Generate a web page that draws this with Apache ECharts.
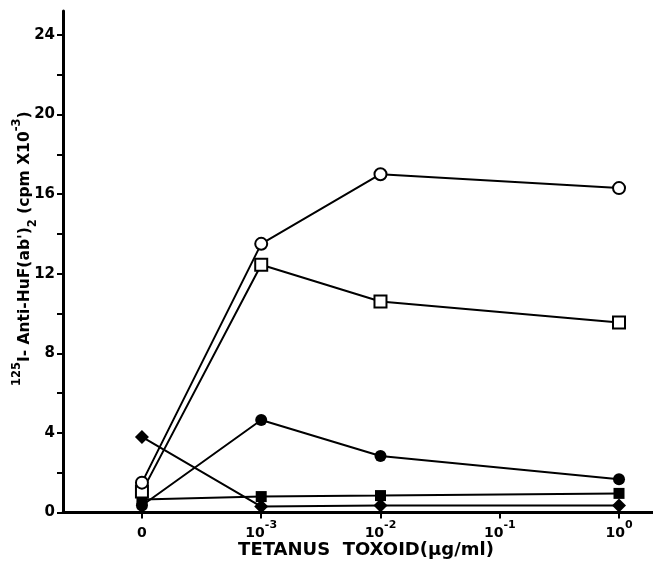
<!DOCTYPE html>
<html><head><meta charset="utf-8">
<script src="https://cdn.jsdelivr.net/npm/echarts@6/dist/echarts.min.js"></script>
<style>html,body{margin:0;padding:0;background:#fff}#c{width:653px;height:562px}</style>
</head><body><div id="c"></div>
<script>
// x tick labels (positions 0..4 on the axis)
const tickLabels = ['0', '10^-3', '10^-2', '10^-1', '10^0'];
// x positions (index into tickLabels) of measured points
const xIndex = [0, 1, 2, 4];
// series values (cpm x 10^-3)
const openCircle    = [1.5, 13.5, 17.0, 16.3];
const openSquare    = [1.05, 12.45, 10.6, 9.55];
const filledCircle  = [0.35, 4.65, 2.84, 1.67];
const filledSquare  = [0.65, 0.8, 0.85, 0.96];
const filledDiamond = [3.8, 0.3, 0.35, 0.35];
// y ticks / labels
const yTicks  = [0, 2, 4, 6, 8, 10, 12, 14, 16, 18, 20, 22, 24];
const yLabels = [0, 4, 8, 12, 16, 20, 24];

const FONT = 'DejaVu Sans';
function pts(vals) { return xIndex.map((x, i) => [x, vals[i]]); }
function fmtTick(v) {
  const s = tickLabels[Math.round(v)];
  if (s === undefined) return '';
  const p = s.split('^');
  return p.length > 1 ? '{b|' + p[0] + '}{sup|' + p[1] + '}' : '{b|' + p[0] + '}';
}
function mk(name, data, symbol, size, filled) {
  return {
    name: name, type: 'line', data: pts(data), symbol: symbol, symbolSize: size,
    showAllSymbol: true,
    lineStyle: { color: '#000', width: 2 },
    itemStyle: { color: filled ? '#000' : '#fff', borderColor: '#000', borderWidth: filled ? 0 : 2 },
    emphasis: { disabled: true }, z: filled ? 3 : 4
  };
}
const chart = echarts.init(document.getElementById('c'), null, { renderer: 'canvas' });
chart.setOption({
  animation: false,
  backgroundColor: '#fff',
  grid: { left: 63, right: 0, top: 11, bottom: 49.5, containLabel: false, outerBoundsMode: 'none' },
  xAxis: {
    type: 'value', min: -0.662, max: 4.285,
    axisLine: { show: true, onZero: false, lineStyle: { color: '#000', width: 3 } },
    axisTick: { show: true, customValues: [0, 1, 2, 3, 4], length: 6, inside: false, lineStyle: { color: '#000', width: 2 } },
    axisLabel: {
      customValues: [0, 1, 2, 3, 4], formatter: fmtTick, margin: 7,
      rich: {
        b: { fontFamily: FONT, fontWeight: 'bold', fontSize: 14, color: '#000', lineHeight: 28, verticalAlign: 'middle' },
        sup: { fontFamily: FONT, fontWeight: 'bold', fontSize: 11, color: '#000', lineHeight: 11, verticalAlign: 'top' }
      }
    },
    splitLine: { show: false },
    name: 'TETANUS  TOXOID(\u03bcg/ml)', nameLocation: 'middle', nameGap: 29, nameMoveOverlap: false,
    nameTextStyle: { fontFamily: FONT, fontWeight: 'bold', fontSize: 18, color: '#000', padding: [0, 0, 0, 16] }
  },
  yAxis: {
    type: 'value', min: 0, max: 25.2,
    axisLine: { show: true, onZero: false, lineStyle: { color: '#000', width: 3 } },
    axisTick: { show: true, customValues: yTicks, length: 6, lineStyle: { color: '#000', width: 2 } },
    axisLabel: { customValues: yLabels, margin: 8, fontFamily: FONT, fontWeight: 'bold', fontSize: 15, color: '#000' },
    splitLine: { show: false },
    name: '{sup|125}{b|I- Anti-HuF(ab\')}{sub|2}{b| (cpm X10}{sup|-3}{b|)}',
    nameLocation: 'middle', nameGap: 24, nameRotate: 90, nameMoveOverlap: false,
    nameTextStyle: {
      padding: [0, 0, 0, 26],
      rich: {
        b: { fontFamily: FONT, fontWeight: 'bold', fontSize: 15.5, color: '#000', lineHeight: 28, verticalAlign: 'middle' },
        sup: { fontFamily: FONT, fontWeight: 'bold', fontSize: 11.5, color: '#000', lineHeight: 11, verticalAlign: 'top' },
        sub: { fontFamily: FONT, fontWeight: 'bold', fontSize: 11.5, color: '#000', lineHeight: 11, verticalAlign: 'bottom' }
      }
    }
  },
  series: [
    mk('filledDiamond', filledDiamond, 'diamond', [14, 14], true),
    mk('filledSquare', filledSquare, 'rect', 11, true),
    mk('filledCircle', filledCircle, 'circle', 12, true),
    mk('openSquare', openSquare, 'rect', 12, false),
    mk('openCircle', openCircle, 'circle', 12, false)
  ]
});
</script></body></html>
